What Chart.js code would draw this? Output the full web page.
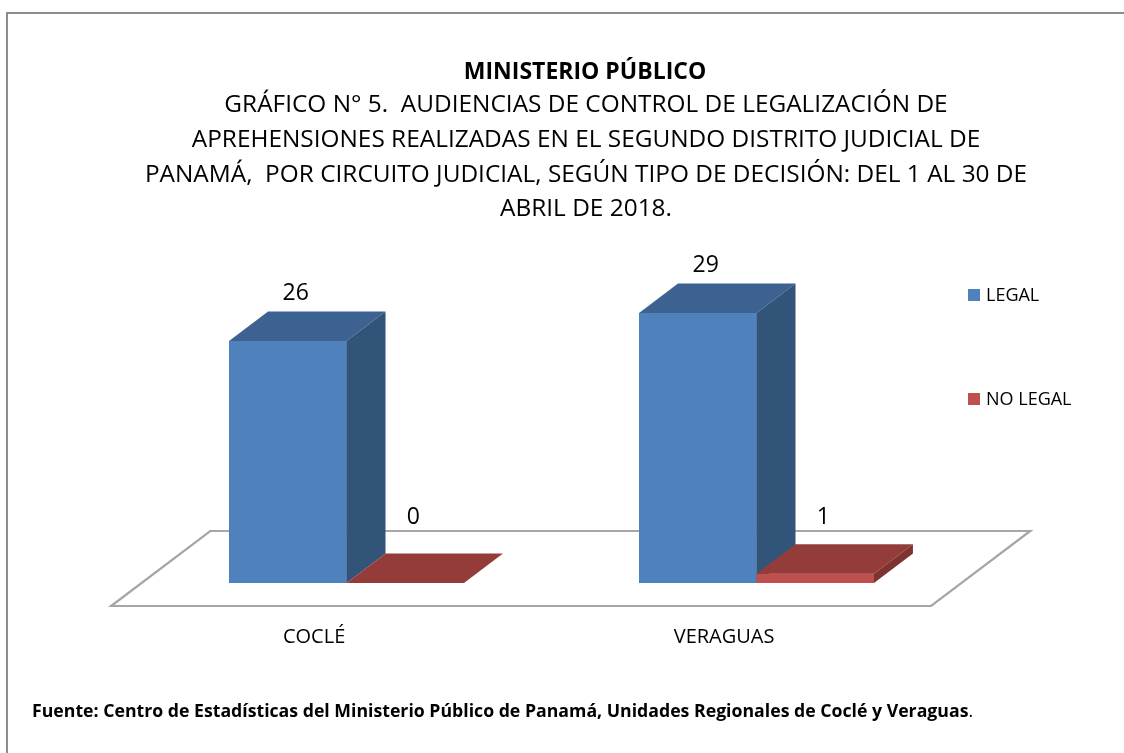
<!DOCTYPE html>
<html>
<head>
<meta charset="utf-8">
<script src="https://cdn.jsdelivr.net/npm/chart.js@4/dist/chart.umd.min.js"></script>
<style>
  html, body { margin: 0; padding: 0; background: #fff; }
  #wrap { position: relative; width: 1124px; height: 753px; }
</style>
</head>
<body>
<div id="wrap"><canvas id="grafico"></canvas></div>
<script>
// ======================
// DATOS
// ======================
const circuitos = ['COCLÉ', 'VERAGUAS'];
const legal = [26, 29];
const noLegal = [0, 1];
const series = ['LEGAL', 'NO LEGAL'];

const tituloBold = 'MINISTERIO PÚBLICO';
const tituloLineas = [
  'GRÁFICO N° 5.  AUDIENCIAS DE CONTROL DE LEGALIZACIÓN DE',
  'APREHENSIONES REALIZADAS EN EL SEGUNDO DISTRITO JUDICIAL DE',
  'PANAMÁ,  POR CIRCUITO JUDICIAL, SEGÚN TIPO DE DECISIÓN: DEL 1 AL 30 DE',
  'ABRIL DE 2018.'
];
const fuente = 'Fuente: Centro de Estadísticas del Ministerio Público de Panamá, Unidades Regionales de Coclé y Veraguas';

// ======================
// ESTILO
// ======================
const FAM = "'Open Sans', 'Noto Sans', sans-serif";
const colores = {
  frente: ['#4F81BD', '#C0504D'],
  arriba: ['#3D6190', '#943C3A'],
  lado:   ['#325479', '#7E3331']
};
const DX = 39, DY = 29.5;   // profundidad 3D

function poly(ctx, pts, fill){
  ctx.beginPath();
  ctx.moveTo(pts[0][0], pts[0][1]);
  for (let i = 1; i < pts.length; i++) ctx.lineTo(pts[i][0], pts[i][1]);
  ctx.closePath();
  ctx.fillStyle = fill;
  ctx.fill();
}

// piso, caras 3D, etiquetas, leyenda y textos
const efecto3d = {
  id: 'efecto3d',

  beforeDatasetsDraw(chart){
    const ctx = chart.ctx;
    const a = chart.chartArea;
    const y0 = chart.scales.y.getPixelForValue(0);
    const k = DX / DY;
    const fr = y0 + 23, bk = y0 - 52;
    ctx.save();
    ctx.beginPath();
    ctx.moveTo(a.left - 23 * k, fr);
    ctx.lineTo(a.right - 23 * k, fr);
    ctx.lineTo(a.right + 52 * k, bk);
    ctx.lineTo(a.left + 52 * k, bk);
    ctx.closePath();
    ctx.fillStyle = '#fff';
    ctx.fill();
    ctx.strokeStyle = '#a6a6a6';
    ctx.lineWidth = 2.2;
    ctx.stroke();
    ctx.restore();
  },

  afterDatasetsDraw(chart){
    const ctx = chart.ctx;
    const metas = chart.getSortedVisibleDatasetMetas().sort((m1, m2) => m1.index - m2.index);
    ctx.save();
    circuitos.forEach((c, i) => {
      metas.forEach(meta => {
        const el = meta.data[i];
        const d = meta.index;
        const l = el.x - el.width / 2, r = el.x + el.width / 2;
        const t = el.y, b = el.base;
        el.draw(ctx);
        // cara superior
        poly(ctx, [[l, t], [r, t], [r + DX, t - DY], [l + DX, t - DY]], colores.arriba[d]);
        // cara lateral
        if (b - t > 0.5) {
          poly(ctx, [[r, t], [r + DX, t - DY], [r + DX, b - DY], [r, b]], colores.lado[d]);
        }
      });
    });

    // etiquetas de valor
    const y0 = chart.scales.y.getPixelForValue(0);
    ctx.fillStyle = '#000';
    ctx.font = '23px ' + FAM;
    ctx.textAlign = 'center';
    ctx.textBaseline = 'middle';
    metas.forEach(meta => {
      const datos = chart.data.datasets[meta.index].data;
      meta.data.forEach((el, i) => {
        const yTop = el.y - DY;
        const y = Math.min(yTop - 18, y0 - 66);
        ctx.fillText(String(datos[i]), el.x + 8, y);
      });
    });

    // etiquetas de categoría sobre el borde frontal del piso
    const k = DX / DY;
    ctx.font = '20px ' + FAM;
    circuitos.forEach((c, i) => {
      const x = chart.scales.x.getPixelForValue(i) - 23 * k - 2;
      ctx.fillText(c, x, 637);
    });
    ctx.restore();
  },

  afterDraw(chart){
    const ctx = chart.ctx;
    ctx.save();

    // marco
    ctx.strokeStyle = '#8c8c8c';
    ctx.lineWidth = 2;
    ctx.beginPath();
    ctx.moveTo(7, 760);
    ctx.lineTo(7, 13);
    ctx.lineTo(1130, 13);
    ctx.stroke();

    // título
    ctx.fillStyle = '#000';
    ctx.textAlign = 'center';
    ctx.textBaseline = 'middle';
    ctx.font = 'bold 23px ' + FAM;
    ctx.fillText(tituloBold, 585, 72);
    ctx.font = '24.4px ' + FAM;
    tituloLineas.forEach((t, i) => ctx.fillText(t, 586, 105 + i * 34.8));

    // leyenda
    ctx.textAlign = 'left';
    ctx.font = '18px ' + FAM;
    series.forEach((s, i) => {
      const y = 295 + i * 104;
      ctx.fillStyle = colores.frente[i];
      ctx.fillRect(968, y - 6, 12, 12);
      ctx.fillStyle = '#000';
      ctx.fillText(s, 986, y + 1);
    });

    // fuente
    ctx.font = 'bold 17.7px ' + FAM;
    ctx.fillText(fuente, 32, 712);
    const w = ctx.measureText(fuente).width;
    ctx.font = '17.7px ' + FAM;
    ctx.fillText('.', 32 + w, 712);

    ctx.restore();
  }
};

new Chart(document.getElementById('grafico'), {
  type: 'bar',
  data: {
    labels: circuitos,
    datasets: [
      { label: series[0], data: legal, backgroundColor: colores.frente[0], borderWidth: 0 },
      { label: series[1], data: noLegal, backgroundColor: colores.frente[1], borderWidth: 0 }
    ]
  },
  options: {
    responsive: true,
    maintainAspectRatio: false,
    animation: false,
    categoryPercentage: 0.573,
    barPercentage: 1,
    layout: { padding: { left: 141.5, right: 162.5, top: 303.7, bottom: 170 } },
    plugins: {
      legend: { display: false },
      title: { display: false },
      tooltip: { enabled: false }
    },
    scales: {
      x: { display: false },
      y: { display: false, min: 0, max: 30 }
    }
  },
  plugins: [efecto3d]
});
</script>
</body>
</html>
